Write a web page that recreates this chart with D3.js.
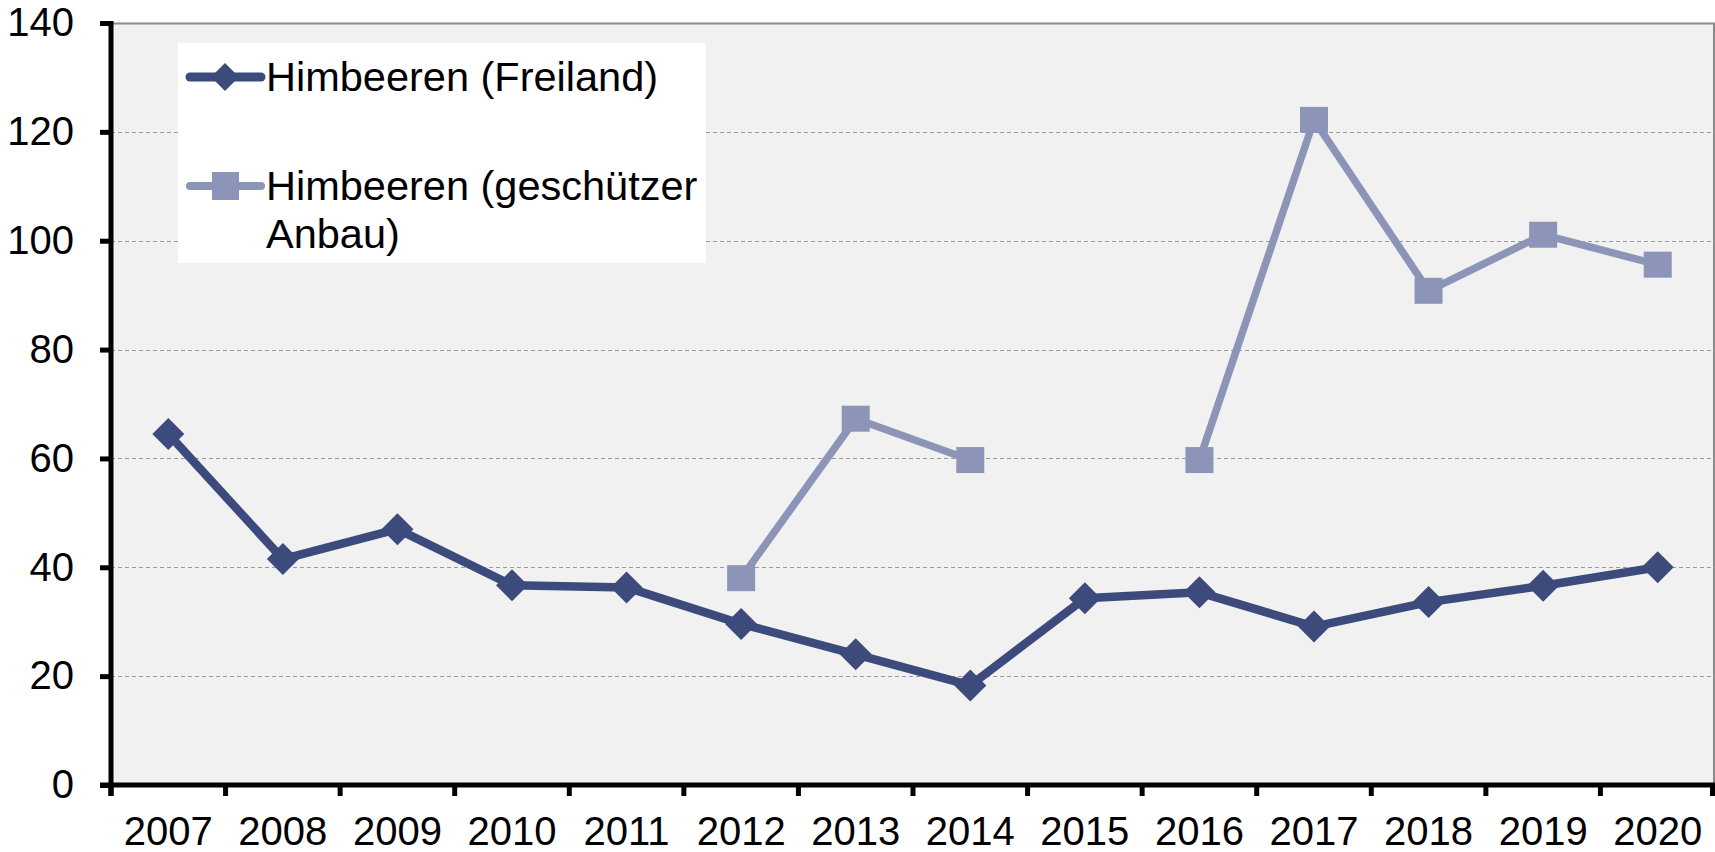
<!DOCTYPE html>
<html>
<head>
<meta charset="utf-8">
<script src="https://cdn.jsdelivr.net/npm/d3@7"></script>
<style>
  html, body { margin: 0; padding: 0; background: #ffffff; }
  svg { display: block; }
  text { font-family: "Liberation Sans", Arial, sans-serif; fill: #000; }
</style>
</head>
<body>
<svg id="chart" width="1715" height="852"></svg>
<script>
const years = ["2007","2008","2009","2010","2011","2012","2013","2014","2015","2016","2017","2018","2019","2020"];
const freiland = [64.5, 41.5, 47.0, 36.7, 36.3, 29.6, 24.0, 18.3, 34.3, 35.4, 29.1, 33.6, 36.6, 40.0];
const geschuetzt = [null, null, null, null, null, 38.0, 67.3, 59.7, null, 59.7, 122.2, 90.8, 101.1, 95.6];
const yTicks = [0, 20, 40, 60, 80, 100, 120, 140];
const seriesNames = ["Himbeeren (Freiland)", ["Himbeeren (geschützer", "Anbau)"]];

const plotL = 111, plotR = 1715, plotT = 23, plotB = 785;
const darkCol = "#3c4a7c", lightCol = "#8c95b7";

const svg = d3.select("#chart");
const x = d3.scaleBand().domain(years).range([plotL, plotR]).padding(0);
const y = d3.scaleLinear().domain([0, 140]).range([plotB, plotT]);

// plot background
svg.append("rect").attr("x", plotL).attr("y", plotT).attr("width", plotR - plotL).attr("height", plotB - plotT)
  .attr("fill", "#f1f1f1");
svg.append("line").attr("x1", plotL).attr("x2", plotR).attr("y1", plotT + 0.5).attr("y2", plotT + 0.5)
  .attr("stroke", "#8a8a8a").attr("stroke-width", 2);
svg.append("line").attr("x1", plotR - 1).attr("x2", plotR - 1).attr("y1", plotT).attr("y2", plotB)
  .attr("stroke", "#8a8a8a").attr("stroke-width", 2);

// gridlines
svg.append("g").selectAll("line").data(yTicks.filter(d => d > 0 && d < 140)).join("line")
  .attr("x1", plotL).attr("x2", plotR).attr("y1", d => Math.round(y(d)) + 0.5).attr("y2", d => Math.round(y(d)) + 0.5)
  .attr("stroke", "#9a9a9a").attr("stroke-width", 1).attr("stroke-dasharray", "4,3");

// y axis
const yAxis = d3.axisLeft(y).tickValues(yTicks).tickSize(11).tickPadding(26).tickFormat(d3.format("d"));
const gy = svg.append("g").attr("transform", `translate(${plotL},0)`).call(yAxis);
gy.select(".domain").remove();
gy.selectAll(".tick line").attr("stroke", "#000").attr("stroke-width", 5);
gy.selectAll(".tick text").attr("font-size", 40).attr("font-family", "Liberation Sans, Arial, sans-serif").attr("fill", "#000");
svg.append("line").attr("x1", plotL).attr("x2", plotL).attr("y1", plotT - 2).attr("y2", plotB + 11)
  .attr("stroke", "#000").attr("stroke-width", 5);

// x axis
const boundaries = years.map(d => x(d)).concat([plotR]);
svg.append("g").selectAll("line").data(boundaries).join("line")
  .attr("x1", d => Math.min(d, plotR - 2.5)).attr("x2", d => Math.min(d, plotR - 2.5))
  .attr("y1", plotB).attr("y2", plotB + 11)
  .attr("stroke", "#000").attr("stroke-width", 5);
svg.append("line").attr("x1", plotL - 11).attr("x2", plotR).attr("y1", plotB).attr("y2", plotB)
  .attr("stroke", "#000").attr("stroke-width", 5);
svg.append("g").selectAll("text").data(years).join("text")
  .attr("x", d => x(d) + x.bandwidth() / 2).attr("y", 845)
  .attr("text-anchor", "middle").attr("font-size", 40).text(d => d);

// lines
const cx = (d, i) => x(years[i]) + x.bandwidth() / 2;
const line = d3.line().defined(d => d !== null).x(cx).y(d => y(d));

svg.append("path").datum(geschuetzt).attr("d", line).attr("fill", "none")
  .attr("stroke", lightCol).attr("stroke-width", 7.5).attr("stroke-linejoin", "round");
svg.append("g").selectAll("rect").data(geschuetzt.map((v, i) => ({v, i})).filter(d => d.v !== null)).join("rect")
  .attr("x", d => cx(d.v, d.i) - 14).attr("y", d => y(d.v) - 13)
  .attr("width", 28).attr("height", 26).attr("fill", lightCol);

svg.append("path").datum(freiland).attr("d", line).attr("fill", "none")
  .attr("stroke", darkCol).attr("stroke-width", 8.5).attr("stroke-linejoin", "round");
const diamond = s => `M0,${-s}L${s},0L0,${s}L${-s},0Z`;
svg.append("g").selectAll("path").data(freiland.map((v, i) => ({v, i}))).join("path")
  .attr("transform", d => `translate(${cx(d.v, d.i)},${y(d.v)})`)
  .attr("d", diamond(16)).attr("fill", darkCol);

// legend
const lg = svg.append("g");
lg.append("rect").attr("x", 178).attr("y", 43).attr("width", 528).attr("height", 220).attr("fill", "#ffffff");
lg.append("line").attr("x1", 190).attr("x2", 261).attr("y1", 77).attr("y2", 77)
  .attr("stroke", darkCol).attr("stroke-width", 9).attr("stroke-linecap", "round");
lg.append("path").attr("transform", "translate(225,77)").attr("d", diamond(14)).attr("fill", darkCol);
lg.append("text").attr("x", 266).attr("y", 91).attr("font-size", 41.5).text(seriesNames[0]);
lg.append("line").attr("x1", 190).attr("x2", 261).attr("y1", 186).attr("y2", 186)
  .attr("stroke", lightCol).attr("stroke-width", 8).attr("stroke-linecap", "round");
lg.append("rect").attr("x", 212).attr("y", 172).attr("width", 27).attr("height", 28).attr("fill", lightCol);
lg.selectAll("text.l2").data(seriesNames[1]).join("text").attr("class", "l2")
  .attr("x", 266).attr("y", (d, i) => 200 + i * 48).attr("font-size", 41.5).text(d => d);
</script>
</body>
</html>
